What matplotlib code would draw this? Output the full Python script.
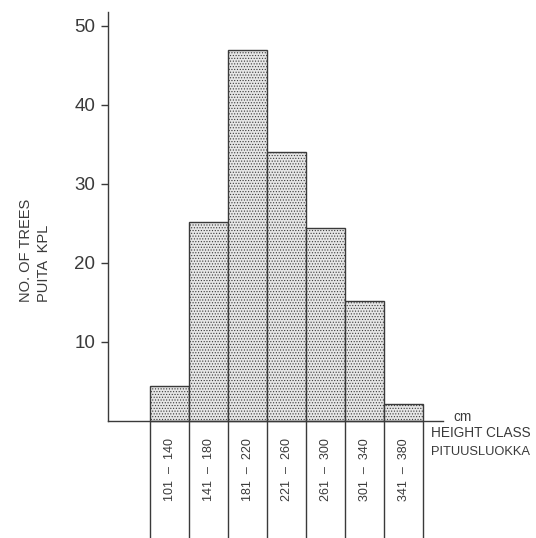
import matplotlib
matplotlib.use("Agg")
import matplotlib.pyplot as plt

plt.rcParams['font.family'] = ['Liberation Sans', 'DejaVu Sans']
plt.rcParams['hatch.color'] = '#cfcfcf'
plt.rcParams['hatch.linewidth'] = 0.5

classes = ["101  –  140", "141  –  180", "181  –  220", "221  –  260",
           "261  –  300", "301  –  340", "341  –  380"]
counts = [4.4, 25.2, 46.9, 34.1, 24.4, 15.2, 2.1]
yticks = [10, 20, 30, 40, 50]

ink = '#3a3a3a'
fig = plt.figure(figsize=(5.36, 5.38), dpi=100)
ax = fig.add_axes([0, 0, 1, 1])
ax.patch.set_alpha(0)

xs = list(range(len(classes)))
ax.bar(xs, counts, width=1.0, facecolor='#e6e6e6', edgecolor=ink,
       linewidth=1.0, hatch='......', zorder=2)

ax.set_xlim(-4.346, 9.397)
ax.set_ylim(-14.81, 53.29)

for s in ['top', 'right']:
    ax.spines[s].set_visible(False)
ax.spines['left'].set_position(('data', -1.577))
ax.spines['left'].set_bounds(0, 51.8)
ax.spines['bottom'].set_position(('data', 0))
ax.spines['bottom'].set_bounds(-1.577, 7.01)
for s in ['left', 'bottom']:
    ax.spines[s].set_color(ink)
    ax.spines[s].set_linewidth(1.0)

ax.set_xticks([])
ax.set_yticks(yticks)
ax.set_yticklabels([str(v) for v in yticks])
ax.tick_params(axis='y', direction='out', length=5, width=1.0, color=ink,
               labelsize=13.5, labelcolor=ink, pad=4)

# cell dividers below the axis
edges = [x - 0.5 for x in xs] + [xs[-1] + 0.5]
ax.vlines(edges, -14.81, 0, color=ink, linewidth=1.0)
for x, lab in zip(xs, classes):
    ax.text(x, -6.2, lab, rotation=90, ha='center', va='center',
            fontsize=9, color=ink)

ax.text(7.27, 0.5, "cm", ha='left', va='center', fontsize=9.8, color=ink)
ax.text(6.7, -1.52, "HEIGHT CLASS", ha='left', va='center', fontsize=9.8, color=ink)
ax.text(6.7, -3.9, "PITUUSLUOKKA", ha='left', va='center', fontsize=9.3, color=ink)

ax.text(-3.68, 15.06, "NO. OF TREES", rotation=90, rotation_mode='anchor',
        ha='left', va='center', fontsize=10.5, color=ink)
ax.text(-3.22, 15.06, "PUITA  KPL", rotation=90, rotation_mode='anchor',
        ha='left', va='center', fontsize=10.5, color=ink)

fig.savefig("out.png", dpi=100)
